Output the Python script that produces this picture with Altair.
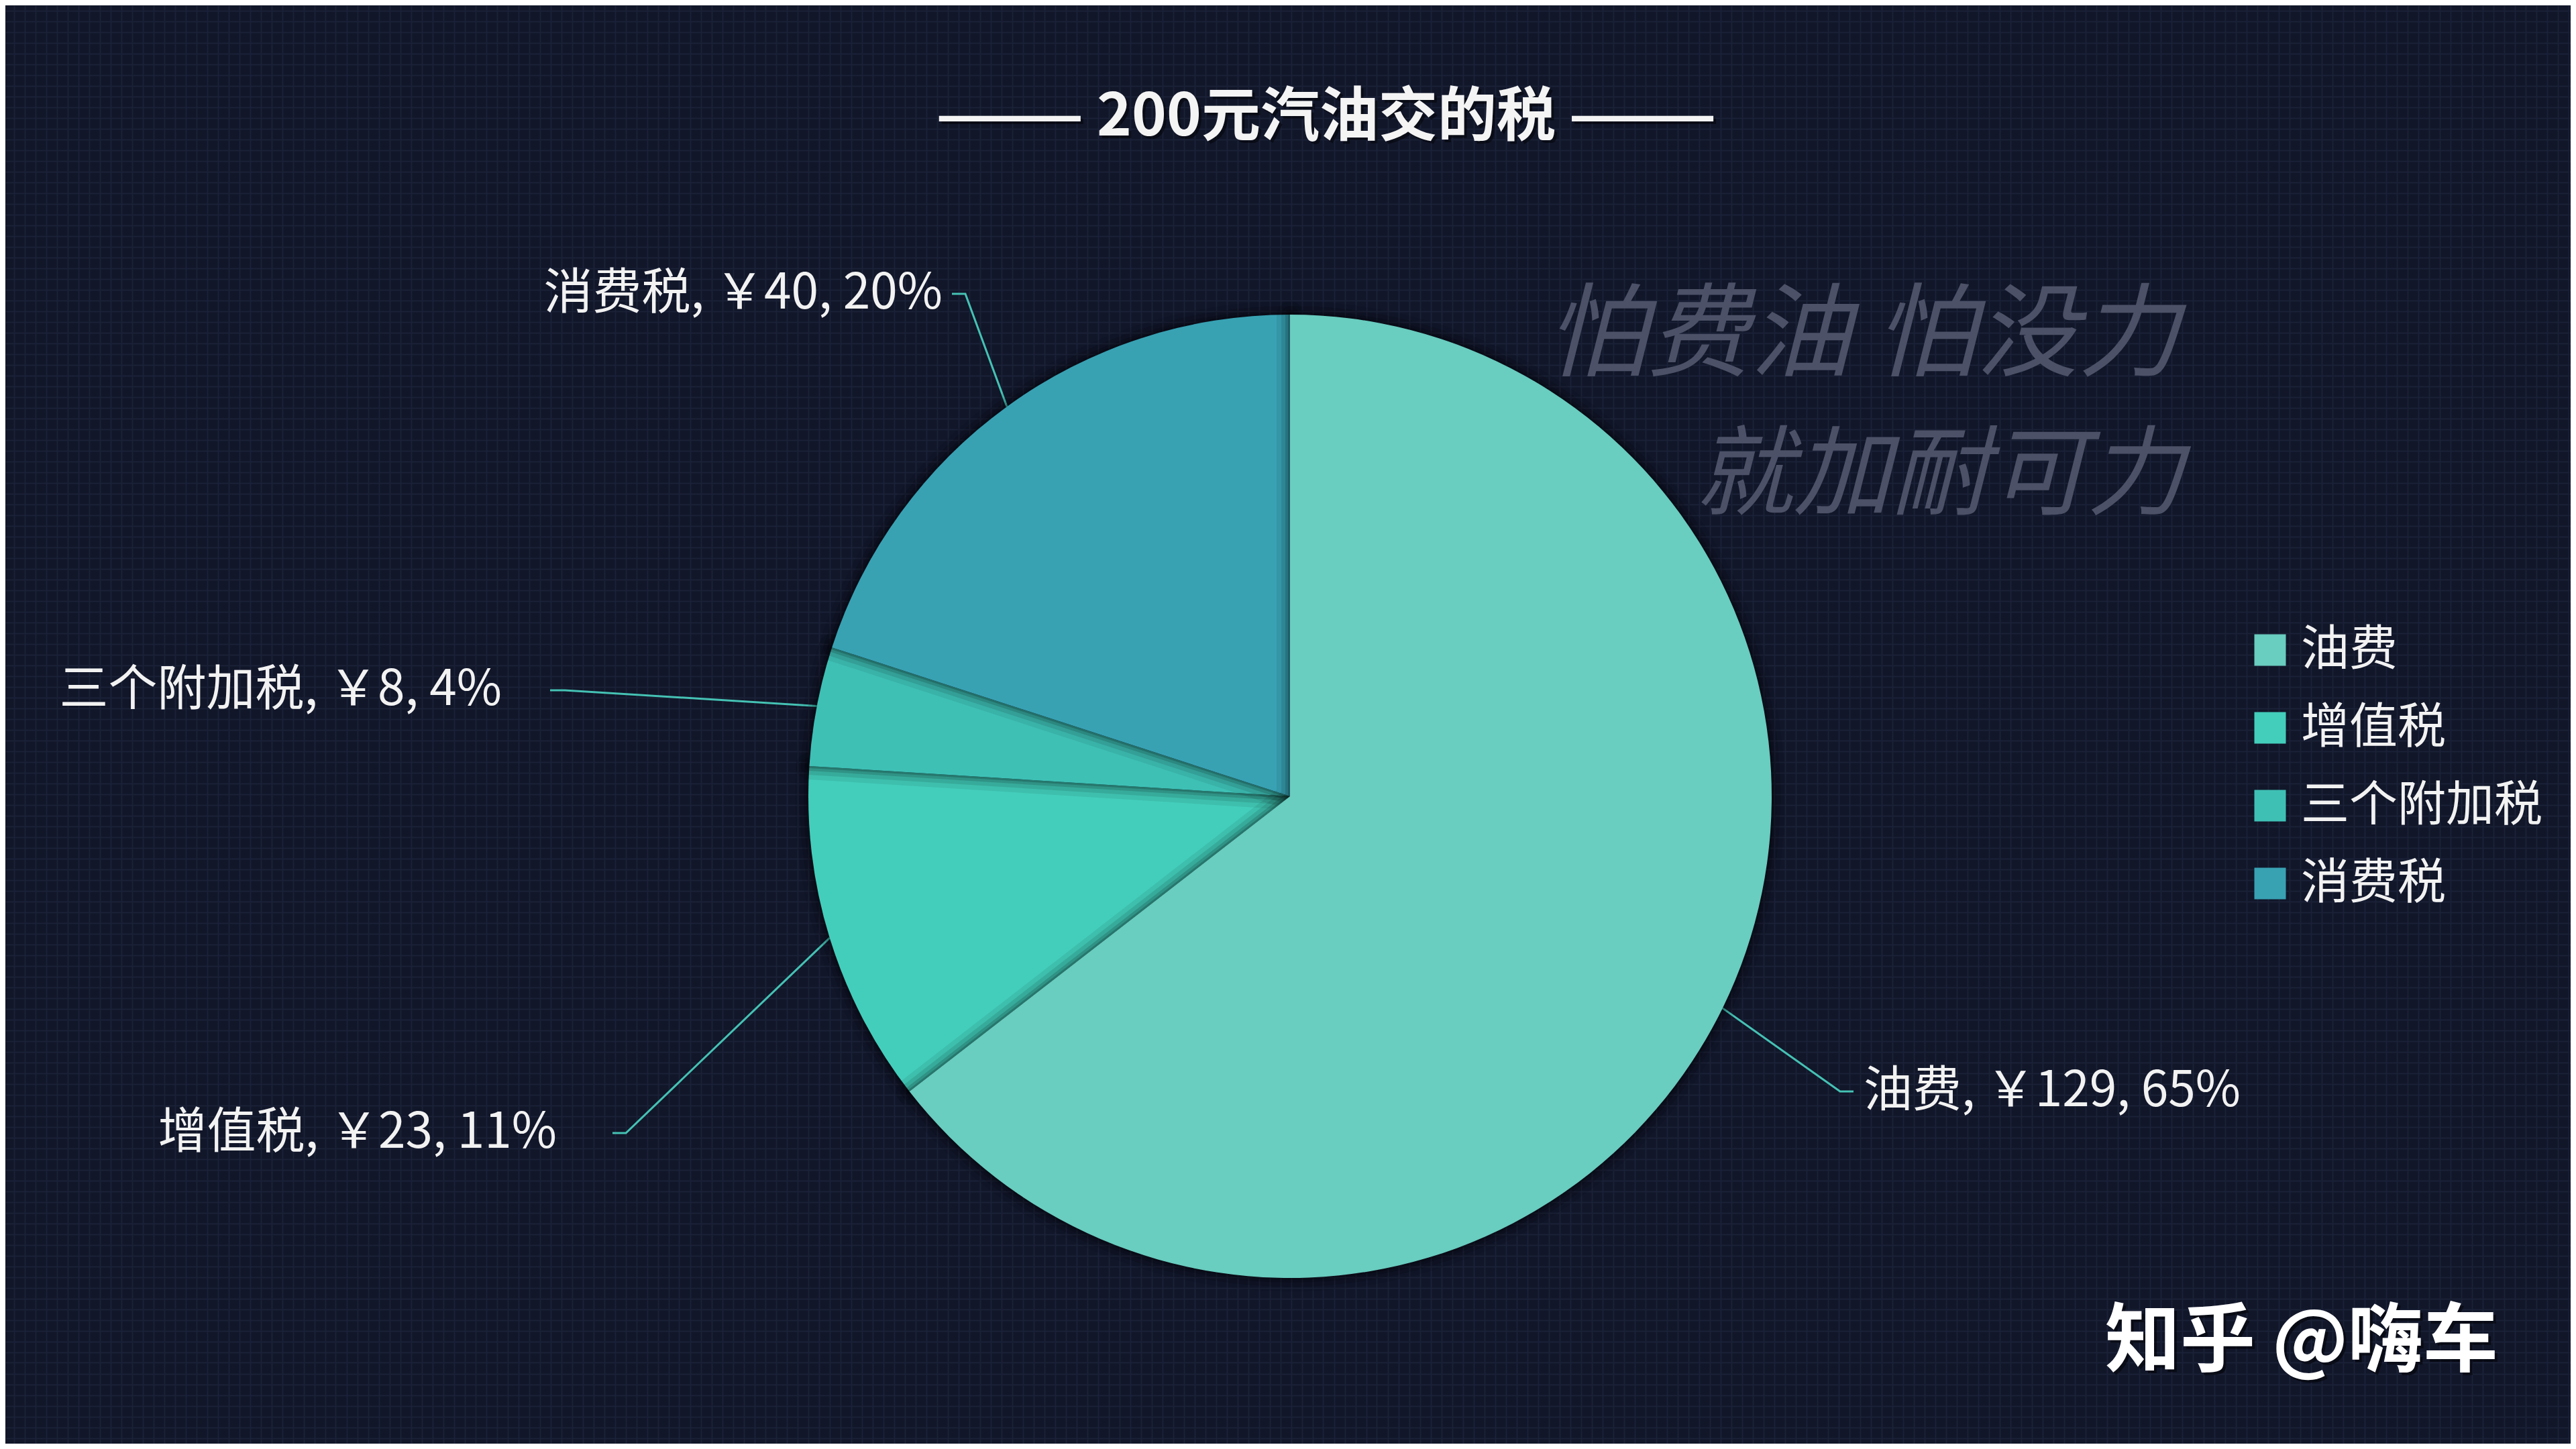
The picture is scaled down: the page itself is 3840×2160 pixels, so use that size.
import math
import altair as alt
import numpy as np
import pandas as pd

# ---------------- data ----------------
categories = ["油费", "增值税", "三个附加税", "消费税"]
amounts = [129, 23, 8, 40]
percents = [65, 11, 4, 20]
slice_colors = ["#69CDBF", "#43CEBB", "#3EC0B5", "#38A2B3"]

title_text = "——— 200元汽油交的税 ———"
slogan_lines = ["怕费油 怕没力", "就加耐可力"]
credit_text = "知乎  @嗨车"

# ---------------- layout (page pixel coordinates) ----------------
M = 8
W, H = 3824, 2144
CX, CY, R = 1923, 1187, 718
elbows = [(2743, 1627), (933, 1689), (842, 1029), (1439, 438)]
line_end_x = [2763, 913, 820, 1419]
text_x = [2778, 830, 748, 1405]
slogan_pos = [(3250, 503, 152), (3257, 712, 146)]
draw_order = ["增值税", "三个附加税", "消费税", "油费"]
FONT = "Noto Sans CJK SC"
BG = "#111629"

total = sum(amounts)
starts = np.cumsum([0] + amounts[:-1])
ends = starts + np.array(amounts)
slices = pd.DataFrame({"cat": categories, "start": starts, "end": ends, "amount": amounts})

line_rows, label_rows = [], []
for i, c in enumerate(categories):
    mid = (starts[i] + amounts[i] / 2) / total * 2 * math.pi
    sx = CX + R * math.sin(mid)
    sy = CY - R * math.cos(mid)
    ex, ey = elbows[i]
    for k, (x, y) in enumerate([(sx, sy), (ex, ey), (line_end_x[i], ey)]):
        line_rows.append({"cat": c, "k": k, "x": x, "y": y})
    label_rows.append({
        "cat": c, "x": text_x[i], "y": ey,
        "side": "right" if math.sin(mid) > 0 else "left",
        "label": f"{c}, ￥{amounts[i]}, {percents[i]}%",
    })
lines_df = pd.DataFrame(line_rows)
labels_df = pd.DataFrame(label_rows)

# ---------------- scales / axes ----------------
xs = alt.Scale(domain=[M, M + W], nice=False, zero=False)
ys = alt.Scale(domain=[M, M + H], nice=False, zero=False, reverse=True)
xaxis = alt.Axis(grid=True, values=[float(v) for v in np.arange(20.5, M + W, 16)],
                 labels=False, ticks=False, domain=False, title=None,
                 gridColor="#1B2137", gridWidth=2, gridOpacity=1)
yaxis = alt.Axis(grid=True, values=[float(v) for v in np.arange(15.5, M + H, 16)],
                 labels=False, ticks=False, domain=False, title=None,
                 gridColor="#1B2137", gridWidth=2, gridOpacity=1)

def X(f):
    return alt.X(f, scale=xs, axis=xaxis)

def Y(f):
    return alt.Y(f, scale=ys, axis=yaxis)

legend = alt.Legend(
    orient="none", legendX=3348 - M, legendY=933 - M, direction="vertical",
    title=None, symbolType="square", symbolSize=47 * 47, symbolStrokeWidth=0,
    symbolOpacity=1, labelFont=FONT, labelFontSize=72, labelColor="#F2F2F2",
    labelOffset=10, rowPadding=44, padding=0, labelLimit=0,
)
color_enc = alt.Color("cat:N", scale=alt.Scale(domain=categories, range=slice_colors), legend=legend)

layers = []

# leader lines (also carry the background grid axes)
layers.append(
    alt.Chart(lines_df).mark_line(color="#45C2B4", strokeWidth=3).encode(
        x=X("x:Q"), y=Y("y:Q"), detail="cat:N", order="k:Q")
)

# pie slices with soft shadows
base = alt.Chart(slices).encode(
    theta=alt.Theta("start:Q", scale=alt.Scale(domain=[0, total], range=[0, 2 * math.pi])),
    theta2=alt.Theta2("end:Q"),
    x=alt.value(CX - M), y=alt.value(CY - M),
)
for c in draw_order:
    f = base.transform_filter(alt.datum.cat == c)
    for w, o in [(40, 0.07), (26, 0.1), (14, 0.14), (6, 0.18)]:
        layers.append(f.mark_arc(radius=R, fillOpacity=0, stroke="#000000", strokeWidth=w,
                                 strokeOpacity=o, strokeJoin="round"))
    layers.append(f.mark_arc(radius=R, strokeWidth=0).encode(color=color_enc))

# slice labels
for side, align in [("right", "left"), ("left", "right")]:
    layers.append(
        alt.Chart(labels_df).transform_filter(alt.datum.side == side).mark_text(
            align=align, baseline="middle", font=FONT, fontSize=73, color="#F2F2F2"
        ).encode(x=X("x:Q"), y=Y("y:Q"), text="label:N")
    )

# title
title_df = pd.DataFrame({"t": [title_text]})
layers.append(alt.Chart(title_df).mark_text(
    font=FONT, fontSize=88, fontWeight="bold", color="#000000", opacity=0.45,
    align="center", baseline="middle").encode(
    text="t:N", x=alt.value(1977 - M + 4), y=alt.value(176 - M + 4)))
layers.append(alt.Chart(title_df).mark_text(
    font=FONT, fontSize=88, fontWeight="bold", color="#F4F4F4",
    align="center", baseline="middle").encode(
    text="t:N", x=alt.value(1977 - M), y=alt.value(176 - M)))

# slogan watermark
for txt, (xx, yy, fs) in zip(slogan_lines, slogan_pos):
    layers.append(alt.Chart(pd.DataFrame({"t": [txt]})).mark_text(
        font=FONT, fontSize=fs, fontStyle="italic", color="#4C5167",
        align="right", baseline="middle").encode(
        text="t:N", x=alt.value(xx - M), y=alt.value(yy - M)))

# credit
credit_df = pd.DataFrame({"t": [credit_text]})
layers.append(alt.Chart(credit_df).mark_text(
    font=FONT, fontSize=112, fontWeight="bold", color="#000000", opacity=0.5,
    align="center", baseline="middle").encode(
    text="t:N", x=alt.value(3431 - M + 4), y=alt.value(2002 - M + 4)))
layers.append(alt.Chart(credit_df).mark_text(
    font=FONT, fontSize=112, fontWeight="bold", color="#FFFFFF",
    align="center", baseline="middle").encode(
    text="t:N", x=alt.value(3431 - M), y=alt.value(2002 - M)))

chart = alt.layer(*layers).properties(
    width=W, height=H, background=BG, padding=0,
    autosize=alt.AutoSizeParams(type="none"),
).configure_view(stroke=None)

chart.save("out.html", embed_options={"renderer": "svg", "actions": False})
